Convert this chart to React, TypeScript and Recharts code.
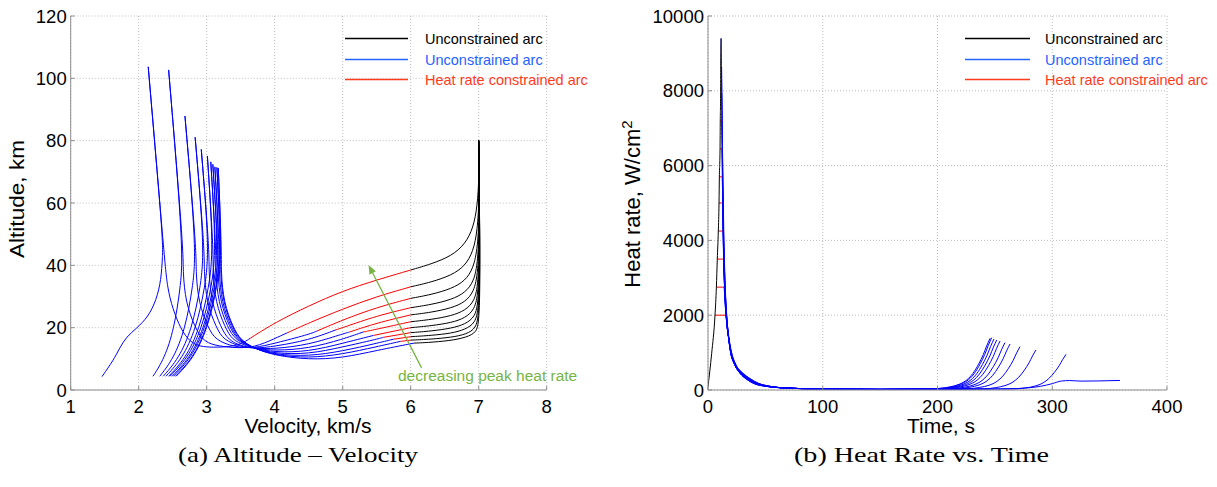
import React from 'react';
import { LineChart, Line, XAxis, YAxis, CartesianGrid, ReferenceLine } from 'recharts';

type P = [number, number];

const FONT = "'Liberation Sans', Arial, Helvetica, sans-serif";
const SERIF = "'Liberation Serif', 'Times New Roman', serif";
const BLUE = '#0000ff';
const RED = '#ff0000';
const BLACK = '#000000';
const GREEN = '#77b443';
const GRID = '#bdbdbd';
const AXIS = '#8e8e8e';

// ---------- ticks ----------
const velocityTicks = [1, 2, 3, 4, 5, 6, 7, 8];
const altitudeTicks = [0, 20, 40, 60, 80, 100, 120];
const timeTicks = [0, 100, 200, 300, 400];
const heatTicks = [0, 2000, 4000, 6000, 8000, 10000];

const legendLabels = ['Unconstrained arc', 'Unconstrained arc', 'Heat rate constrained arc'];
const legendColors = ['#000000', '#2563ff', '#ff3b1e'];
const annotationText = 'decreasing peak heat rate';

// ---------- (a) Altitude vs velocity : [velocity km/s, altitude km] ----------
const altitudeBlackArcs: P[][] = [
  [[7.0, 80], [7.005, 68], [6.98, 59], [6.92, 52], [6.8, 46.8], [6.6, 43.0], [6.3, 40.4], [6.0, 38.5]],
  [[7.0, 80], [7.01, 62], [6.98, 51], [6.92, 44.5], [6.8, 39.8], [6.6, 36.8], [6.3, 34.6], [6.0, 33.1]],
  [[7.0, 80], [7.012, 58], [6.985, 45.5], [6.92, 39.0], [6.8, 35.0], [6.6, 32.5], [6.3, 30.6], [6.0, 29.4]],
  [[7.0, 80], [7.014, 55], [6.988, 41], [6.93, 34.8], [6.8, 31.2], [6.6, 29.0], [6.3, 27.4], [6.0, 26.4]],
  [[7.0, 80], [7.016, 52], [6.99, 37.5], [6.93, 31.5], [6.8, 28.2], [6.6, 26.3], [6.3, 24.9], [6.0, 24.1]],
  [[7.0, 80], [7.018, 49], [6.992, 34], [6.94, 28.5], [6.8, 25.5], [6.6, 23.8], [6.3, 22.6], [6.0, 21.9]],
  [[7.0, 80], [7.02, 46], [6.994, 31], [6.94, 25.8], [6.8, 23.1], [6.6, 21.6], [6.3, 20.6], [6.0, 20.0]],
  [[7.0, 80], [7.02, 43], [6.996, 28.5], [6.95, 23.5], [6.8, 21.1], [6.6, 19.8], [6.3, 18.9], [6.0, 18.4]],
  [[7.0, 80], [7.022, 40], [6.998, 26], [6.95, 21.5], [6.8, 19.4], [6.6, 18.2], [6.3, 17.5], [6.0, 17.1]],
  [[7.0, 80], [7.022, 37], [7.0, 24], [6.96, 19.8], [6.82, 17.9], [6.6, 16.9], [6.3, 16.3], [6.0, 16.0]],
  [[7.0, 80], [7.024, 34], [7.002, 22], [6.97, 18.5], [6.82, 16.9], [6.58, 15.8], [6.23, 15.2], [6.05, 15.05]],
];

const altitudeRedArcs: P[][] = [
  [[6.0, 38.5], [5.5, 35.3], [5.0, 31.8], [4.5, 27.0], [4.0, 21.6], [3.64, 16.6]],
  [[6.0, 33.1], [5.5, 30.0], [5.0, 26.0], [4.5, 21.5], [4.18, 18.3]],
  [[6.0, 29.4], [5.5, 26.5], [5.0, 22.5], [4.62, 18.9]],
  [[6.0, 26.4], [5.5, 23.8], [5.0, 20.0], [4.9, 19.3]],
  [[6.0, 24.1], [5.5, 21.5], [5.1, 18.6]],
  [[6.0, 21.9], [5.5, 19.5], [5.3, 18.6]],
  [[6.0, 20.0], [5.45, 17.5]],
  [[6.0, 18.4], [5.6, 16.9]],
  [[6.0, 17.1], [5.75, 16.3]],
  [[6.0, 16.0], [5.85, 15.6]],
];

// from the end of the constrained arc up to the apex of the skip
const altitudeBlueAscent: P[][] = [
  [[3.64, 16.6], [3.5, 14.6], [3.3, 13.8], [3.1, 13.7], [2.9, 13.9], [2.75, 15.5], [2.62, 19.5], [2.5, 26], [2.42, 33], [2.38, 42], [2.14, 103.7]],
  [[4.18, 18.3], [4.0, 16.5], [3.7, 13.6], [3.4, 13.5], [3.1, 14.3], [2.94, 16], [2.83, 20], [2.69, 28], [2.65, 38], [2.66, 45], [2.44, 102.7]],
  [[4.62, 18.9], [4.5, 17.8], [4.0, 15.0], [3.7, 13.4], [3.4, 13.8], [3.13, 16], [3.02, 20], [2.88, 28], [2.84, 38], [2.85, 45], [2.68, 87.9]],
  [[4.9, 19.3], [4.5, 16.0], [4.0, 14.0], [3.7, 13.3], [3.5, 13.9], [3.25, 16], [3.14, 20], [3.0, 28], [2.96, 38], [2.97, 45], [2.83, 81.1]],
  [[5.1, 18.6], [5.0, 18.0], [4.5, 14.5], [4.0, 13.2], [3.7, 13.3], [3.5, 14.2], [3.32, 16], [3.21, 20], [3.07, 28], [3.03, 38], [3.04, 45], [2.92, 77.2]],
  [[5.3, 18.6], [5.0, 16.3], [4.5, 13.3], [4.0, 12.6], [3.7, 13.3], [3.55, 14.5], [3.38, 16], [3.27, 20], [3.13, 28], [3.09, 38], [3.1, 45], [3.01, 75.1]],
  [[5.45, 17.5], [5.0, 15.0], [4.5, 12.3], [4.0, 12.1], [3.7, 13.3], [3.42, 16], [3.31, 20], [3.17, 28], [3.13, 38], [3.14, 45], [3.06, 73.2]],
  [[5.6, 16.9], [5.5, 16.3], [5.0, 13.8], [4.5, 11.5], [4.0, 11.7], [3.7, 13.3], [3.45, 16], [3.34, 20], [3.2, 28], [3.16, 38], [3.17, 45], [3.09, 72.4]],
  [[5.75, 16.3], [5.5, 15.0], [5.0, 12.5], [4.5, 10.8], [4.0, 11.4], [3.7, 13.3], [3.47, 16], [3.36, 20], [3.22, 28], [3.18, 38], [3.19, 45], [3.12, 71.6]],
  [[5.85, 15.6], [5.5, 13.9], [5.0, 11.5], [4.5, 10.2], [4.0, 11.2], [3.7, 13.3], [3.49, 16], [3.38, 20], [3.24, 28], [3.2, 38], [3.21, 45], [3.15, 71.4]],
  [[6.05, 15.05], [5.5, 12.7], [5.0, 10.3], [4.5, 9.7], [4.0, 11.1], [3.7, 13.3], [3.5, 16], [3.39, 20], [3.25, 28], [3.21, 38], [3.22, 45], [3.17, 71.2]],
];

// from the apex of the skip down to the end of the flight
const altitudeBlueDescent: P[][] = [
  [[2.14, 103.7], [2.36, 48], [2.35, 42.8], [2.33, 35.3], [2.26, 28.9], [2.14, 23.5], [1.97, 19.8], [1.82, 17.1], [1.72, 13.5], [1.63, 9.6], [1.46, 4.3]],
  [[2.44, 102.7], [2.66, 45], [2.615, 33], [2.52, 19.5], [2.376, 10], [2.21, 4.4]],
  [[2.68, 87.9], [2.85, 45], [2.796, 33], [2.683, 19.5], [2.51, 10], [2.31, 4.4]],
  [[2.83, 81.1], [2.97, 45], [2.909, 33], [2.781, 19.5], [2.586, 10], [2.36, 4.4]],
  [[2.92, 77.2], [3.04, 45], [2.976, 33], [2.842, 19.5], [2.637, 10], [2.4, 4.4]],
  [[3.01, 75.1], [3.1, 45], [3.034, 33], [2.895, 19.5], [2.684, 10], [2.44, 4.4]],
  [[3.06, 73.2], [3.14, 45], [3.072, 33], [2.929, 19.5], [2.712, 10], [2.46, 4.4]],
  [[3.09, 72.4], [3.17, 45], [3.102, 33], [2.959, 19.5], [2.742, 10], [2.49, 4.4]],
  [[3.12, 71.6], [3.19, 45], [3.122, 33], [2.979, 19.5], [2.762, 10], [2.51, 4.4]],
  [[3.15, 71.4], [3.21, 45], [3.143, 33], [3.002, 19.5], [2.788, 10], [2.54, 4.4]],
  [[3.17, 71.2], [3.22, 45], [3.153, 33], [3.012, 19.5], [2.798, 10], [2.55, 4.4]],
];

const arrowStart = { x: 6.16, y: 7.1 };
const arrowEnd = { x: 5.38, y: 40.1 };

// ---------- (b) Heat rate vs time : [time s, heat rate W/cm^2] ----------
const heatBlackArc: P[] = [
  [0, 90], [3.2, 980], [6.1, 2000], [7.3, 2750], [8.1, 3500], [9.0, 4250], [9.6, 5000],
  [9.9, 5700], [10.5, 6450], [10.7, 7200], [11.0, 7950], [11.1, 8650], [11.4, 9400],
];

const heatRedArcs: P[][] = [
  [[6.1, 2000], [14.8, 2000]],
  [[7.3, 2750], [12.8, 2750]],
  [[8.1, 3500], [12.8, 3500]],
  [[9.0, 4250], [12.5, 4250]],
  [[9.6, 5000], [11.9, 5000]],
  [[9.9, 5700], [11.9, 5700]],
  [[10.5, 6450], [11.6, 6450]],
  [[10.7, 7200], [11.6, 7200]],
  [[11.0, 7950], [11.6, 7950]],
  [[11.1, 8650], [11.6, 8650]],
];

const heatBlueArcs: P[][] = [
  [[14.8, 2000], [15.7, 2000], [17, 1700], [18.5, 1350], [20.6, 1000], [24, 700], [30.8, 445], [37, 300], [44, 180], [54, 100], [70, 50], [100, 25], [150, 15], [200, 18], [240, 25], [270, 40], [280, 60], [290, 100], [300, 170], [308, 240], [315, 252], [325, 238], [340, 242], [359, 255]],
  [[12.8, 2750], [13.9, 2750], [15, 2250], [16.5, 1750], [18.2, 1350], [20.4, 1000], [23.8, 700], [30.3, 445], [36.5, 300], [43.5, 180], [54, 100], [70, 50], [100, 25], [150, 15], [200, 20], [240, 25], [267, 29], [277, 57], [285, 105], [292, 191], [297, 305], [302, 477], [306, 649], [309, 811], [312, 954]],
  [[12.8, 3500], [13.5, 3500], [14.4, 2800], [15.6, 2100], [17, 1600], [18.2, 1350], [20.2, 1000], [23.6, 700], [29.8, 445], [36, 300], [43, 180], [53, 100], [70, 50], [100, 25], [150, 15], [200, 22], [240.8, 32], [250.8, 64], [258.8, 118], [265.8, 214], [270.8, 342], [275.8, 535], [279.8, 728], [282.8, 910], [285.8, 1070]],
  [[12.5, 4250], [13.2, 4250], [14, 3200], [15, 2400], [16.3, 1800], [18, 1380], [20, 1000], [23.4, 700], [29.3, 445], [35.5, 300], [42.5, 180], [53, 100], [70, 50], [100, 25], [150, 16], [200, 25], [226.9, 35], [236.9, 70], [244.9, 127], [251.9, 232], [256.9, 371], [261.9, 580], [265.9, 788], [268.9, 985], [271.9, 1159]],
  [[11.9, 5000], [12.6, 5000], [13.3, 3900], [14.2, 2900], [15.4, 2150], [16.8, 1650], [18.2, 1370], [20, 1000], [23.3, 700], [29, 445], [35, 300], [42, 180], [52, 100], [70, 50], [100, 25], [150, 16], [200, 28], [218.2, 37], [228.2, 74], [236.2, 135], [243.2, 246], [248.2, 394], [253.2, 615], [257.2, 836], [260.2, 1046], [263.2, 1230]],
  [[11.9, 5700], [12.4, 5700], [13.1, 4400], [14, 3200], [15.1, 2400], [16.4, 1800], [18.1, 1380], [20, 1000], [23.2, 700], [28.8, 445], [34.5, 300], [41.5, 180], [52, 100], [70, 50], [100, 25], [150, 17], [200, 30], [213.8, 38], [223.8, 76], [231.8, 139], [238.8, 253], [243.8, 405], [248.8, 633], [252.8, 861], [255.8, 1076], [258.8, 1266]],
  [[11.6, 6450], [12.1, 6450], [12.8, 5000], [13.7, 3600], [14.8, 2600], [16.2, 1900], [18, 1400], [19.9, 1000], [23.1, 700], [28.5, 445], [34, 300], [41, 180], [51, 100], [70, 50], [100, 25], [150, 17], [200, 32], [209.5, 39], [219.5, 79], [227.5, 144], [234.5, 262], [239.5, 419], [244.5, 655], [248.5, 891], [251.5, 1114], [254.5, 1310]],
  [[11.6, 7200], [12.0, 7200], [12.7, 5500], [13.6, 3900], [14.8, 2700], [16.2, 1950], [17.9, 1400], [19.8, 1000], [23, 700], [28.3, 445], [33.8, 300], [40.5, 180], [51, 100], [70, 50], [100, 25], [150, 18], [200, 35], [206.6, 40], [216.6, 80], [224.6, 147], [231.6, 267], [236.6, 428], [241.6, 669], [245.6, 909], [248.6, 1136], [251.6, 1337]],
  [[11.6, 7950], [11.9, 7950], [12.6, 6000], [13.6, 4100], [14.8, 2800], [16.2, 2000], [17.9, 1420], [19.8, 1000], [23, 700], [28.1, 445], [33.5, 300], [40, 180], [50.5, 100], [70, 50], [100, 25], [150, 18], [200, 38], [204.2, 41], [214.2, 82], [222.2, 150], [229.2, 273], [234.2, 436], [239.2, 682], [243.2, 928], [246.2, 1159], [249.2, 1364]],
  [[11.6, 8650], [11.8, 8650], [12.4, 6800], [13.4, 4500], [14.6, 3000], [16, 2100], [17.8, 1450], [19.7, 1000], [22.9, 700], [28, 445], [33.2, 300], [39.8, 180], [50.2, 100], [70, 50], [100, 25], [150, 18], [202.2, 42], [212.2, 84], [220.2, 154], [227.2, 280], [232.2, 448], [237.2, 700], [241.2, 951], [244.2, 1189], [247.2, 1399]],
  [[11.4, 9400], [11.9, 8000], [12.8, 6100], [13.9, 4000], [15, 2800], [16.3, 2000], [18, 1400], [19.8, 1000], [23, 700], [27.9, 445], [33, 300], [39.5, 178], [50, 100], [70, 50], [100, 25], [150, 18], [200.8, 41], [210.8, 83], [218.8, 152], [225.8, 276], [230.8, 442], [235.8, 691], [239.8, 940], [242.8, 1175], [245.8, 1382]],
];

// ---------- helpers ----------
const toData = (pts: P[]) => pts.map(([x, y]) => ({ x, y }));

const series = (pts: P[], color: string, type: any, key: string) => (
  <Line
    key={key}
    data={toData(pts)}
    dataKey="y"
    type={type}
    stroke={color}
    strokeWidth={1}
    dot={false}
    activeDot={false}
    isAnimationActive={false}
    legendType="none"
  />
);

const ArrowShape = (props: any) => {
  const { x1, y1, x2, y2 } = props;
  if ([x1, y1, x2, y2].some((v) => typeof v !== 'number' || isNaN(v))) return <g />;
  const ang = Math.atan2(y2 - y1, x2 - x1);
  const L = 9;
  const W = 3.6;
  const bx = x2 - L * Math.cos(ang);
  const by = y2 - L * Math.sin(ang);
  const px = -Math.sin(ang) * W;
  const py = Math.cos(ang) * W;
  return (
    <g>
      <line x1={x1} y1={y1} x2={bx} y2={by} stroke={GREEN} strokeWidth={1.3} />
      <polygon points={`${x2},${y2} ${bx + px},${by + py} ${bx - px},${by - py}`} fill={GREEN} />
    </g>
  );
};

const tickStyle = { fill: '#000', fontSize: 18.5, fontFamily: FONT };
const tickLineStyle = { stroke: AXIS };

const Legend = ({ x0, x1, tx }: { x0: number; x1: number; tx: number }) => (
  <g>
    {legendLabels.map((label, i) => {
      const y = [38.5, 59.5, 79.5][i];
      return (
        <g key={i}>
          <line x1={x0} y1={y} x2={x1} y2={y} stroke={legendColors[i]} strokeWidth={1.3} />
          <text x={tx} y={y} dominantBaseline="central" fill={legendColors[i]} fontSize={14.5} fontFamily={FONT}>
            {label}
          </text>
        </g>
      );
    })}
  </g>
);

export default function App() {
  return (
    <div style={{ position: 'absolute', left: 0, top: 0, width: 1217, height: 487, background: '#fff', overflow: 'hidden' }}>
      <div style={{ position: 'absolute', left: 0, top: 0 }}>
        <LineChart width={600} height={440} margin={{ top: 16, right: 53.3, left: 0, bottom: 0 }}>
          <CartesianGrid stroke={GRID} strokeDasharray="1 2" />
          <XAxis
            type="number"
            dataKey="x"
            domain={[1, 8]}
            ticks={velocityTicks}
            interval={0}
            height={50}
            tickLine={tickLineStyle}
            tickSize={-4}
            tickMargin={14}
            axisLine={{ stroke: AXIS }}
            tick={tickStyle}
            allowDataOverflow
          />
          <YAxis
            type="number"
            dataKey="y"
            domain={[0, 120]}
            ticks={altitudeTicks}
            interval={0}
            width={70.7}
            tickLine={tickLineStyle}
            tickSize={-4}
            tickMargin={8}
            axisLine={{ stroke: AXIS }}
            tick={tickStyle}
            allowDataOverflow
          />
          {altitudeBlueAscent.map((p, i) => series(p, BLUE, 'basis', `aa${i}`))}
          {altitudeBlueDescent.map((p, i) => series(p, BLUE, 'basis', `ad${i}`))}
          {altitudeRedArcs.map((p, i) => series(p, RED, 'basis', `ar${i}`))}
          {altitudeBlackArcs.map((p, i) => series(p, BLACK, 'basis', `ab${i}`))}
          <ReferenceLine segment={[arrowStart, arrowEnd]} stroke={GREEN} shape={ArrowShape} ifOverflow="visible" />
        </LineChart>
      </div>

      <div style={{ position: 'absolute', left: 620, top: 0 }}>
        <LineChart width={597} height={440} margin={{ top: 16, right: 50, left: 0, bottom: 0 }}>
          <CartesianGrid stroke={GRID} strokeDasharray="1 2" />
          <XAxis
            type="number"
            dataKey="x"
            domain={[0, 400]}
            ticks={timeTicks}
            interval={0}
            height={50}
            tickLine={tickLineStyle}
            tickSize={-4}
            tickMargin={14}
            axisLine={{ stroke: AXIS }}
            tick={tickStyle}
            allowDataOverflow
          />
          <YAxis
            type="number"
            dataKey="y"
            domain={[0, 10000]}
            ticks={heatTicks}
            interval={0}
            width={88}
            tickLine={tickLineStyle}
            tickSize={-4}
            tickMargin={8}
            axisLine={{ stroke: AXIS }}
            tick={tickStyle}
            allowDataOverflow
          />
          {heatBlueArcs.map((p, i) => series(p, BLUE, 'monotone', `hb${i}`))}
          {heatRedArcs.map((p, i) => series(p, RED, 'linear', `hr${i}`))}
          {series(heatBlackArc, BLACK, 'monotone', 'hk')}
        </LineChart>
      </div>

      <svg width={1217} height={487} style={{ position: 'absolute', left: 0, top: 0, pointerEvents: 'none' }}>
        <Legend x0={345} x1={408} tx={425} />
        <Legend x0={965} x1={1030} tx={1045} />
        <text x={398} y={375} dominantBaseline="central" fill={GREEN} fontSize={15.5} fontFamily={FONT}>
          {annotationText}
        </text>

        <text x={308} y={433.3} textAnchor="middle" fontSize={20} fontFamily={FONT} textLength={127} lengthAdjust="spacingAndGlyphs">
          Velocity, km/s
        </text>
        <text x={941} y={433.3} textAnchor="middle" fontSize={20} fontFamily={FONT} textLength={68} lengthAdjust="spacingAndGlyphs">
          Time, s
        </text>
        <text x={24} y={199} textAnchor="middle" fontSize={21} fontFamily={FONT} transform="rotate(-90 24 199)" textLength={118} lengthAdjust="spacingAndGlyphs">
          Altitude, km
        </text>
        <text x={640} y={204} textAnchor="middle" fontSize={22} fontFamily={FONT} transform="rotate(-90 640 204)">
          Heat rate, W/cm
          <tspan dy={-8} fontSize={15}>2</tspan>
        </text>

        <text x={178} y={462} fontSize={21} fontFamily={SERIF} textLength={240} lengthAdjust="spacingAndGlyphs">
          (a) Altitude – Velocity
        </text>
        <text x={794} y={462} fontSize={21} fontFamily={SERIF} textLength={255} lengthAdjust="spacingAndGlyphs">
          (b) Heat Rate vs. Time
        </text>
      </svg>
    </div>
  );
}
